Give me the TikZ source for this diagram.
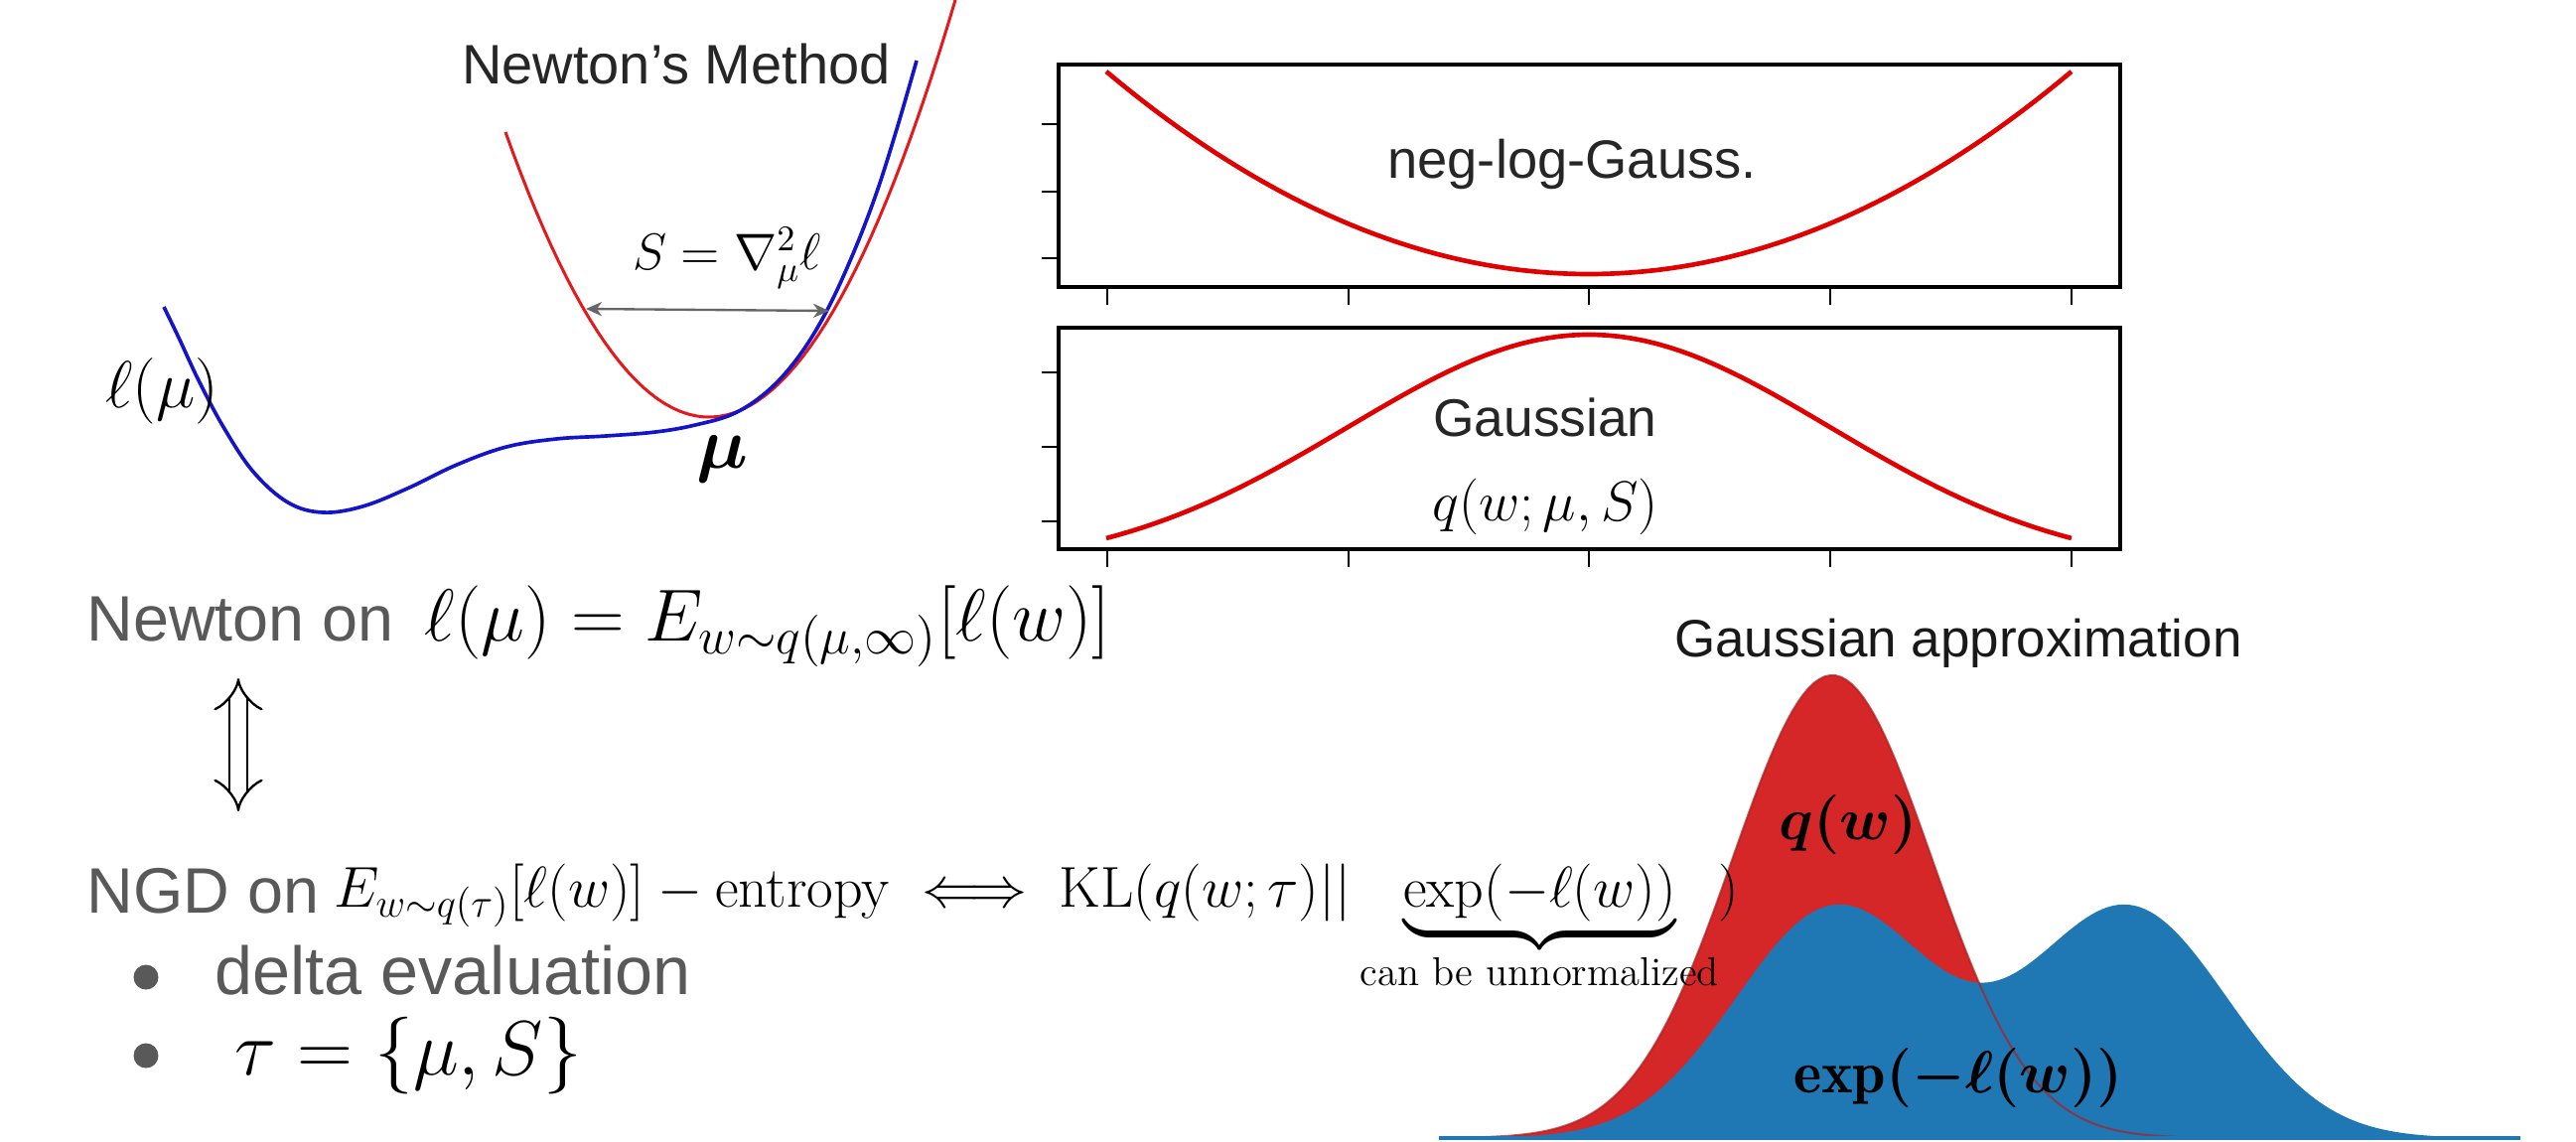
\RequirePackage{fix-cm}
\documentclass[tikz,border=0pt]{standalone}
\usepackage{amsmath}
\usepackage{fontspec}
\newfontfamily\arial{Liberation Sans}
\usetikzlibrary{positioning, arrows.meta}
\definecolor{slidegray}{HTML}{595959}
\definecolor{tabred}{HTML}{D62728}
\definecolor{tabblue}{HTML}{1F77B4}
\definecolor{quadred}{HTML}{E3191C}
\definecolor{lossblue}{HTML}{1414C8}
\newcommand{\fs}[1]{\fontsize{#1}{#1}\selectfont}
\tikzset{
  % --- texts ---
  slidetxt/.style={font=\arial\fs{19.4}, text=slidegray, inner sep=0pt},
  figtxt/.style={font=\arial\fs{16.3}, text=black!85, inner sep=0pt},
  figmath/.style={font=\fs{17}, inner sep=0pt},
  bulletdot/.style={circle, fill=slidegray, minimum size=7.5pt, inner sep=0pt},
  % --- Newton sketch ---
  losscurve/.style={lossblue, line width=1.1pt},
  quadcurve/.style={quadred, line width=0.9pt},
  spread/.style={{Stealth[length=1.7mm, width=1.5mm]}-{Stealth[length=1.7mm, width=1.5mm]},
    black!60, line width=0.7pt},
  % --- small plots ---
  axisbox/.style={line width=1pt},
  tickmark/.style={line width=0.8pt},
  fitcurve/.style={red!88!black, line width=1.4pt},
  % --- equivalence ---
  equiv/.style={double, double distance=4.6pt, line width=0.7pt,
    {Implies[scale=1.6]}-{Implies[scale=1.6]}},
}

\begin{document}
\begin{tikzpicture}[x=0.3pt, y=-0.3pt]
  \useasboundingbox (0,0) rectangle (2594,1149);
  % ---- Newton's method sketch ----
  \draw[quadcurve] plot[domain=509:962, samples=60] (\x, {420-68.3*((\x-714)/100)^2});
  \draw[losscurve] plot[smooth, tension=0.6] coordinates {(165,309) (180,340) (200,383)
    (225,430) (255,475) (290,506) (325,516) (365,510) (410,492) (460,468) (510,450)
    (560,442) (610,439) (660,435) (700,428) (740,416) (775,392) (805,358) (832,314)
    (858,258) (882,196) (903,130) (923,61)};
  \coordinate (sl) at (590,311);
  \coordinate (sr) at (835,313);
  \draw[spread] (sl) -- (sr);
  \node[figtxt, font=\arial\fs{16.8}, anchor=base] (method) at (681,84) {Newton’s Method};
  \node[figmath, font=\fs{15.5}] (hess) at (732,260) {$S=\nabla_\mu^2\ell$};
  \node[inner sep=0pt, font=\fs{20}] (lossl) at (163,394) {$\ell(\mu)$};
  \node[inner sep=0pt, font=\fs{22}] (mupt) at (727,462) {$\boldsymbol{\mu}$};
  % ---- neg-log-Gauss. plot ----
  \draw[axisbox] (1066,65) rectangle (2135,289);
  \foreach \y in {125,193,260} \draw[tickmark] (1066,\y) -- ++(-17,0);
  \draw[fitcurve] plot[domain=-1:1, samples=80] ({1600+486*\x}, {276-204*\x*\x});
  \node[figtxt] (neglog) at (1583,165) {neg-log-Gauss.};
  % ---- Gaussian plot ----
  \draw[axisbox] (1066,330) rectangle (2135,553);
  \foreach \y in {375,450,525} \draw[tickmark] (1066,\y) -- ++(-17,0);
  \foreach \x in {1115,1358,1600,1843,2086} {
    \draw[tickmark] (\x,289) -- ++(0,18);
    \draw[tickmark] (\x,553) -- ++(0,18);
  }
  \draw[fitcurve] plot[domain=-1:1, samples=80] ({1600+486*\x}, {337+205*(1-exp(-2*\x*\x))/0.8647});
  \node[figtxt, font=\arial\fs{16}] (gauss) at (1556,420) {Gaussian};
  \node[figmath] (qdens) at (1556,510) {$q(w;\mu,S)$};
  % ---- Gaussian approximation ----
  \node[inner sep=0pt, font=\arial\fs{15.9}, text=black!90, anchor=base] (gapprox) at (1972,661)
    {Gaussian approximation};
  \fill[tabred] (1449,1146) -- plot[domain=1449:2538, samples=200]
    (\x, {1146-466*exp(-0.5*((\x-1845)/100)^2)}) -- (2538,1146) -- cycle;
  \fill[tabblue] (1449,1146) -- plot[domain=1449:2538, samples=200]
    (\x, {1146-232*(exp(-0.5*((\x-1848)/100)^2)+exp(-0.5*((\x-2143)/100)^2))}) -- (2538,1146) -- cycle;
  \draw[tabred!80!black, opacity=0.7, line width=0.6pt] plot[domain=1449:2538, samples=200]
    (\x, {1146-466*exp(-0.5*((\x-1845)/100)^2)});
  \draw[tabblue, line width=1pt] (1449,1146) -- (2538,1146);
  \node[inner sep=0pt, font=\fs{18}] (qw) at (1861,830) {$\boldsymbol{q(w)}$};
  \node[inner sep=0pt, font=\fs{18}] (lik) at (1972,1085) {$\boldsymbol{\exp(-\ell(w))}$};
  % ---- Newton / NGD statements ----
  \node[slidetxt, anchor=base west] (newton) at (87,645) {Newton on};
  \node[inner sep=0pt, font=\fs{22.3}, anchor=base west] (newtoneq) at (427,645)
    {$\ell(\mu)=E_{w\sim q(\mu,\infty)}[\ell(w)]$};
  \coordinate (eqtop) at (240,683);
  \coordinate (eqbot) at (240,817);
  \draw[equiv] (eqtop) -- (eqbot);
  \node[slidetxt, anchor=base west] (ngd) at (87,919) {NGD on};
  \node[inner sep=0pt, font=\fs{17.4}, anchor=base west] (ngdeq) at (336,913)
    {$E_{w\sim q(\tau)}[\ell(w)]-\text{entropy}\iff\mathrm{KL}(q(w;\tau)||\underbrace{\exp(-\ell(w))}_{\text{can be unnormalized}})$};
  \node[bulletdot] (b1) at (147,984) {};
  \node[slidetxt, font=\arial\fs{20.5}, anchor=base west] (delta) at (216,1001) {delta evaluation};
  \node[bulletdot] (b2) at (147,1063) {};
  \node[inner sep=0pt, font=\fs{23.3}, anchor=base west] (tau) at (236,1082) {$\tau=\{\mu,S\}$};
\end{tikzpicture}
\end{document}
